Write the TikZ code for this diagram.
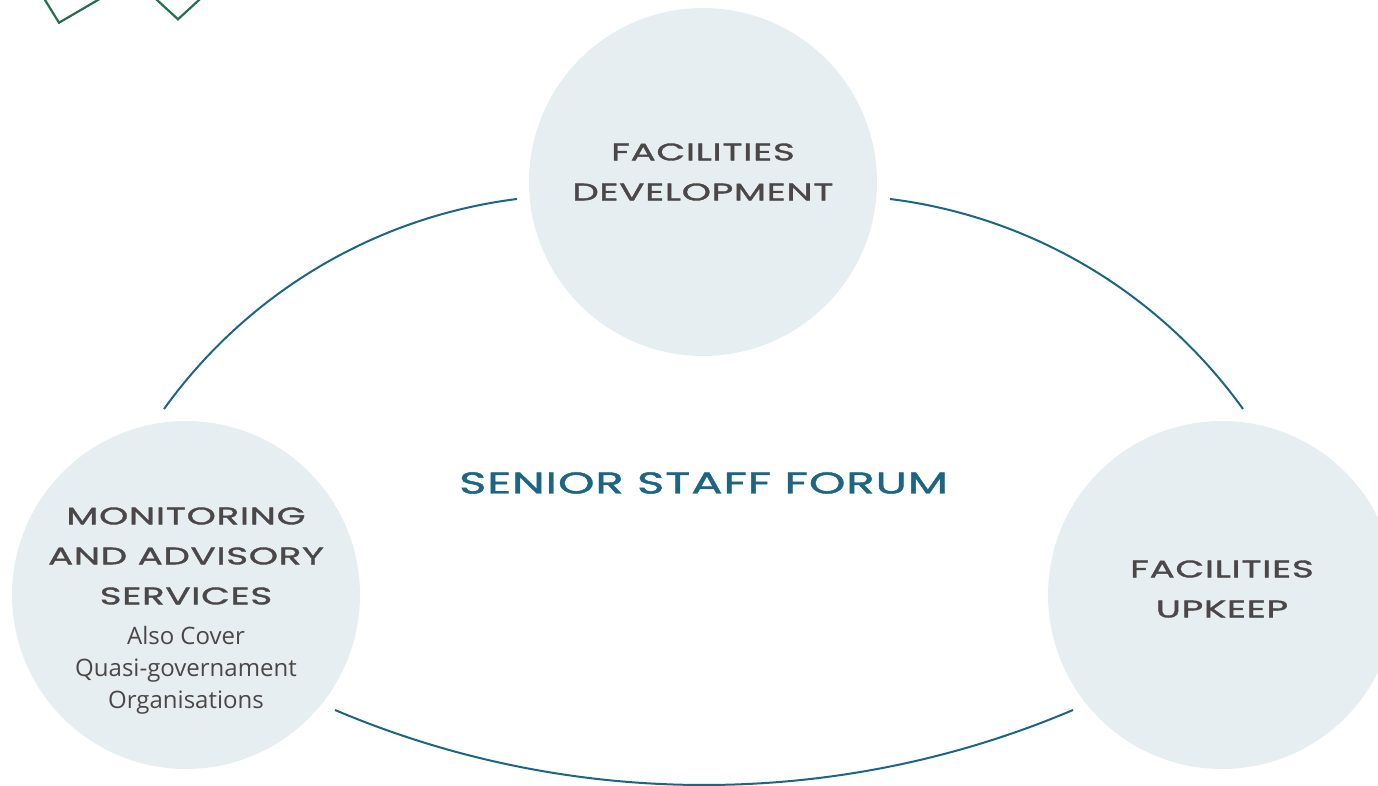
\documentclass[tikz,border=0pt]{standalone}
\usepackage{fontspec}
\setmainfont{Open Sans}
\newfontfamily\headfont[FakeStretch=1.55,LetterSpace=3,FakeBold=1.5]{Poppins}
\usetikzlibrary{calc}
\definecolor{ringblue}{HTML}{1B6684}
\definecolor{forumblue}{HTML}{1D6583}
\definecolor{areafill}{HTML}{E7EEF2}
\definecolor{headgrey}{HTML}{4B4748}
\definecolor{cornergreen}{HTML}{23704F}
\tikzset{
	% pale discs for the three areas, and the ring that links them
	area node/.style={circle,fill=areafill,inner sep=0,minimum size=348pt},
	ring/.style={draw=ringblue,line width=2pt},
	corner stroke/.style={draw=cornergreen,line width=2.2pt},
	head text/.style={align=center,text=headgrey,font=\headfont\fontsize{24}{40}\selectfont},
	body text/.style={align=center,text=headgrey,font=\fontsize{24}{32}\selectfont},
	title text/.style={text=forumblue,font=\headfont\fontsize{30}{36}\selectfont}
}

\begin{document}
\begin{tikzpicture}[x=1pt,y=1pt]
	\useasboundingbox (0,0) rectangle (1378,786);
	
	% two tilted squares in the corner
	\begin{scope}
		\clip (0,0) rectangle (1378,786);
		\draw[corner stroke] (59,763.3) -- ++(-31.5,51.1) -- ++(51.8,30.2) -- ++(31.5,-51.1) -- cycle;
		\draw[corner stroke] (178,766.7) -- ++(-44.2,40.6) -- ++(44.2,40.6) -- ++(44.2,-40.6) -- cycle;
	\end{scope}
	
	\node[area node] (dev) at (703,604) {};
	\node[area node] (advisory) at (186,191) {};
	\node[area node] (upkeep) at (1222,191) {};
	
	% ends of the ring, just off each disc
	\coordinate (devL) at ($(dev)+(-186,-17)$);
	\coordinate (devR) at ($(dev)+(187,-17)$);
	\coordinate (advT) at ($(advisory)+(-22,186)$);
	\coordinate (advR) at ($(advisory)+(149,-115)$);
	\coordinate (upT) at ($(upkeep)+(21,186)$);
	\coordinate (upL) at ($(upkeep)+(-149,-115)$);
	
	\draw[ring] (devL) .. controls +(-142,-17.8) and +(83.6,116.1) .. (advT);
	\draw[ring] (devR) .. controls +(142,-17.8) and +(-83.6,116.1) .. (upT);
	\draw[ring] (advR) .. controls +(235.8,-100) and +(-235.8,-100) .. (upL);
	
	\node[head text] (devtext) at ($(dev)+(0,10)$) {FACILITIES\\DEVELOPMENT};
	\node[head text] (uptext) at ($(upkeep)+(0,6)$) {FACILITIES\\UPKEEP};
	\node[head text] (advtext) at (186,230) {MONITORING\\AND ADVISORY\\SERVICES};
	\node[body text] (advnote) at (186,116) {Also Cover\\Quasi-governament\\Organisations};
	\node[title text] (forum) at (703.5,303) {SENIOR STAFF FORUM};
\end{tikzpicture}
\end{document}
